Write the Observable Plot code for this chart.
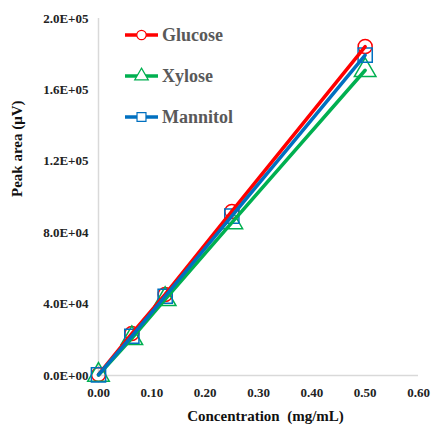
<!DOCTYPE html>
<html><head><meta charset="utf-8">
<script src="https://cdn.jsdelivr.net/npm/d3@7"></script>
<script src="https://cdn.jsdelivr.net/npm/@observablehq/plot@0.6"></script>
<style>
body{margin:0;background:#fff;}
#wrap{position:relative;width:431px;height:428px;}
#legend{position:absolute;left:0;top:0;}
#wrap svg text{font-family:"Liberation Serif", "Times New Roman", serif !important;}
</style>
</head><body><div id="wrap"></div>
<script>
const concentration = [0, 0.0625, 0.125, 0.25, 0.5];
const glucose = [500, 23500, 45400, 91900, 184300];
const xylose = [300, 20800, 42700, 85700, 171000];
const mannitol = [400, 22000, 44400, 89300, 179500];
const seriesNames = ["Glucose", "Xylose", "Mannitol"];
const seriesColors = ["#FF0000", "#00B050", "#0070C0"];
const seriesSymbols = ["circle", "triangle", "square"];
const xTicks = [0, 0.1, 0.2, 0.3, 0.4, 0.5, 0.6];
const yTicks = [0, 40000, 80000, 120000, 160000, 200000];
const xTitle = "Concentration\u00a0\u00a0(mg/mL)";
const yTitle = "Peak area (\u03bcV)";

const values = [glucose, xylose, mannitol];
const data = [];
seriesNames.forEach((s, i) => concentration.forEach((c, j) => data.push({series: s, x: c, y: values[i][j]})));

function sci(v){
  if (v === 0) return "0.0E+00";
  const e = Math.floor(Math.log10(v));
  const m = v / Math.pow(10, e);
  return m.toFixed(1) + "E+" + String(e).padStart(2, "0");
}

const FF = "Liberation Serif";
const marks = [
  Plot.ruleX([0], {stroke: "#D9D9D9", strokeWidth: 1.5}),
  Plot.ruleY([0], {stroke: "#D9D9D9", strokeWidth: 1.5}),
  Plot.axisX({ticks: xTicks, tickFormat: d3.format(".2f"), tickSize: 0, tickPadding: 12, label: null, fontSize: 13, fontWeight: "bold", fontFamily: FF, fill: "#222"}),
  Plot.axisY({ticks: yTicks, tickFormat: sci, tickSize: 0, tickPadding: 10, label: null, fontSize: 13, fontWeight: "bold", fontFamily: FF, fill: "#222"}),
  Plot.text([xTitle], {frameAnchor: "bottom", dy: 45, dx: 7, fontSize: 15, fontWeight: "bold", fontFamily: FF, fill: "#111"}),
  Plot.text([yTitle], {frameAnchor: "left", dx: -81, rotate: -90, fontSize: 15, fontWeight: "bold", fontFamily: FF, fill: "#111"})
];
seriesNames.forEach((s, i) => {
  const d = data.filter(p => p.series === s);
  marks.push(Plot.dot(d, {x: "x", y: "y", symbol: seriesSymbols[i], r: i === 0 ? 7 : 8, stroke: seriesColors[i], strokeWidth: 1.5, fill: "none"}));
});
seriesNames.forEach((s, i) => {
  const d = data.filter(p => p.series === s);
  marks.push(Plot.line(d, {x: "x", y: "y", stroke: seriesColors[i], strokeWidth: 3.5}));
});

const chart = Plot.plot({
  width: 431, height: 428,
  marginLeft: 98, marginRight: 13, marginTop: 18, marginBottom: 53,
  x: {domain: [0, 0.6]},
  y: {domain: [0, 200000]},
  marks
});
document.getElementById("wrap").appendChild(chart);

// legend
const svg = d3.select("#wrap").append("svg").attr("id", "legend").attr("width", 431).attr("height", 428);
const g = svg.selectAll("g").data(seriesNames).join("g")
  .attr("transform", (d, i) => `translate(125,${35 + i * 41})`);
g.append("line").attr("x1", 0).attr("x2", 33).attr("y1", 0).attr("y2", 0)
  .attr("stroke", (d, i) => seriesColors[i]).attr("stroke-width", 3.5);
g.append("path").attr("transform", "translate(16.5,0)")
  .attr("d", (d, i) => d3.symbol(i === 0 ? d3.symbolCircle : i === 1 ? d3.symbolTriangle : d3.symbolSquare, i === 0 ? 70 : 80)())
  .attr("fill", "#fff").attr("stroke", (d, i) => seriesColors[i]).attr("stroke-width", 1.2);
g.append("text").attr("x", 37).attr("y", 0).attr("dy", "0.35em")
  .attr("font-family", FF).attr("font-weight", "bold").attr("font-size", 18).attr("fill", "#595959")
  .text(d => d);
</script>
</body></html>
